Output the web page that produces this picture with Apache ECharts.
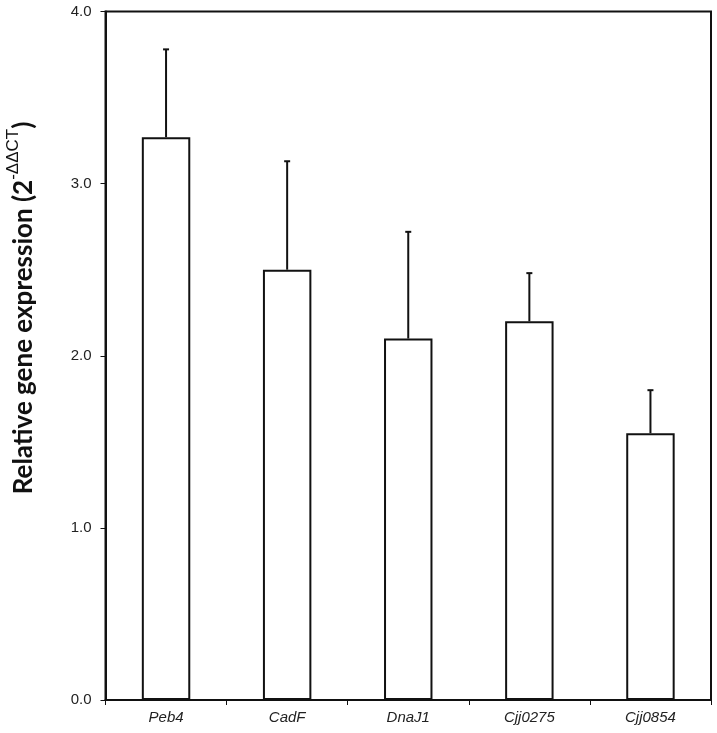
<!DOCTYPE html>
<html>
<head>
<meta charset="utf-8">
<script src="https://cdn.jsdelivr.net/npm/echarts@6/dist/echarts.min.js"></script>
<style>html,body{margin:0;padding:0;background:#fff;}#c{width:717px;height:733px;}</style>
</head>
<body>
<div id="c"></div>
<script>
var categories = ['Peb4', 'CadF', 'DnaJ1', 'Cjj0275', 'Cjj0854'];
var means = [3.27, 2.50, 2.10, 2.20, 1.55];
var errors = [0.51, 0.63, 0.62, 0.28, 0.25];
var yTicks = [0, 1, 2, 3, 4];

var chart = echarts.init(document.getElementById('c'));
var errData = categories.map(function (c, i) { return [i, means[i], means[i] + errors[i]]; });

chart.setOption({
  animation: false,
  backgroundColor: '#fff',
  grid: { left: 105.5, right: 6, top: 11.5, bottom: 33, show: true, borderColor: '#111', borderWidth: 2,
    backgroundColor: 'transparent', containLabel: false, outerBoundsMode: 'none' },
  xAxis: {
    type: 'category',
    data: categories,
    boundaryGap: true,
    axisLine: { lineStyle: { color: '#111', width: 2 } },
    axisTick: { show: true, length: 5, lineStyle: { color: '#111', width: 1 } },
    axisLabel: { fontFamily: 'Liberation Sans, Arial', fontStyle: 'italic', fontSize: 15, color: '#222', margin: 10 },
    splitLine: { show: false }
  },
  yAxis: {
    type: 'value',
    min: yTicks[0], max: yTicks[yTicks.length - 1], interval: 1,
    axisLine: { show: true, lineStyle: { color: '#111', width: 2 } },
    axisTick: { show: true, length: 5, lineStyle: { color: '#111', width: 1 } },
    axisLabel: { fontFamily: 'Liberation Sans, Arial', fontSize: 15, color: '#222', margin: 14,
      formatter: function (v) { return v.toFixed(1); } },
    splitLine: { show: false }
  },
  graphic: [{
    type: 'text',
    x: 21,
    y: 308,
    rotation: Math.PI / 2,
    style: {
      text: '{t|Relative gene expression (2}{s|-ΔΔCT}{t|)}',
      align: 'center',
      verticalAlign: 'middle',
      rich: {
        t: { fontFamily: 'Lato', fontWeight: 'bold', fontSize: 26, fill: '#111', lineHeight: 32, verticalAlign: 'bottom' },
        s: { fontFamily: 'Liberation Sans, Arial', fontSize: 17, fill: '#111', lineHeight: 32, verticalAlign: 'top', padding: [0, 0, 10, 0] }
      }
    }
  }],
  series: [
    {
      type: 'bar',
      data: means,
      barWidth: '40%',
      itemStyle: { color: '#fff', borderColor: '#111', borderWidth: 2 },
      z: 2
    },
    {
      type: 'custom',
      data: errData,
      z: 3,
      renderItem: function (params, api) {
        var x = api.value(0);
        var p0 = api.coord([x, api.value(1)]);
        var p1 = api.coord([x, api.value(2)]);
        var hw = 3;
        return {
          type: 'group',
          children: [
            { type: 'line', shape: { x1: p0[0], y1: p0[1], x2: p1[0], y2: p1[1] }, style: { stroke: '#111', lineWidth: 2 } },
            { type: 'line', shape: { x1: p1[0] - hw, y1: p1[1], x2: p1[0] + hw, y2: p1[1] }, style: { stroke: '#111', lineWidth: 2 } }
          ]
        };
      }
    }
  ]
});
</script>
</body>
</html>
